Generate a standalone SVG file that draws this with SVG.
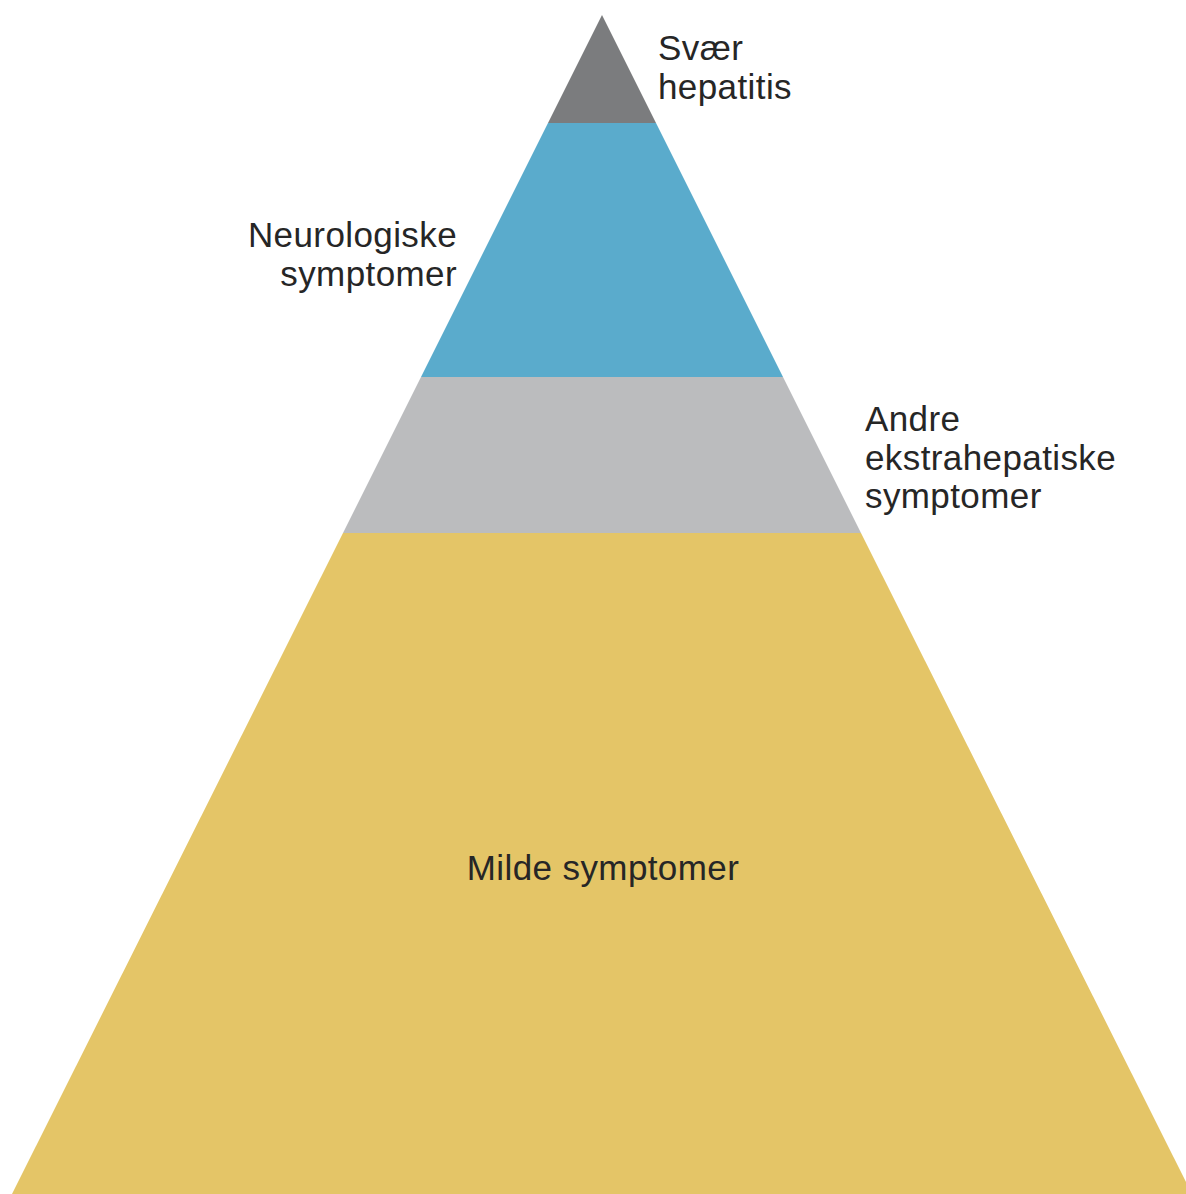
<svg xmlns="http://www.w3.org/2000/svg" width="1186" height="1194" viewBox="0 0 1186 1194">
<style>
.t{font-family:"Liberation Sans",Arial,sans-serif;font-size:35px;fill:#262626;letter-spacing:0.4px}
</style>
<rect width="1186" height="1194" fill="#ffffff"/>
<g id="level-top"><polygon points="602,15 656,123 548,123" fill="#7b7c7e"/></g>
<g id="level-neuro"><polygon points="548,123 656,123 783,377 421,377" fill="#5aabcc"/></g>
<g id="level-andre"><polygon points="421,377 783,377 861,533 343,533" fill="#bbbcbe"/></g>
<g id="level-milde"><polygon points="343,533 861,533 1192,1194 12,1194" fill="#e4c567"/></g>
<g id="labels">
<text class="t" x="658" y="60">Svær</text>
<text class="t" x="658" y="99">hepatitis</text>
<text class="t" x="457" y="247" text-anchor="end">Neurologiske</text>
<text class="t" x="457" y="286" text-anchor="end">symptomer</text>
<text class="t" x="865" y="431">Andre</text>
<text class="t" x="865" y="470">ekstrahepatiske</text>
<text class="t" x="865" y="508">symptomer</text>
<text class="t" x="603" y="880" text-anchor="middle">Milde symptomer</text>
</g>
</svg>
